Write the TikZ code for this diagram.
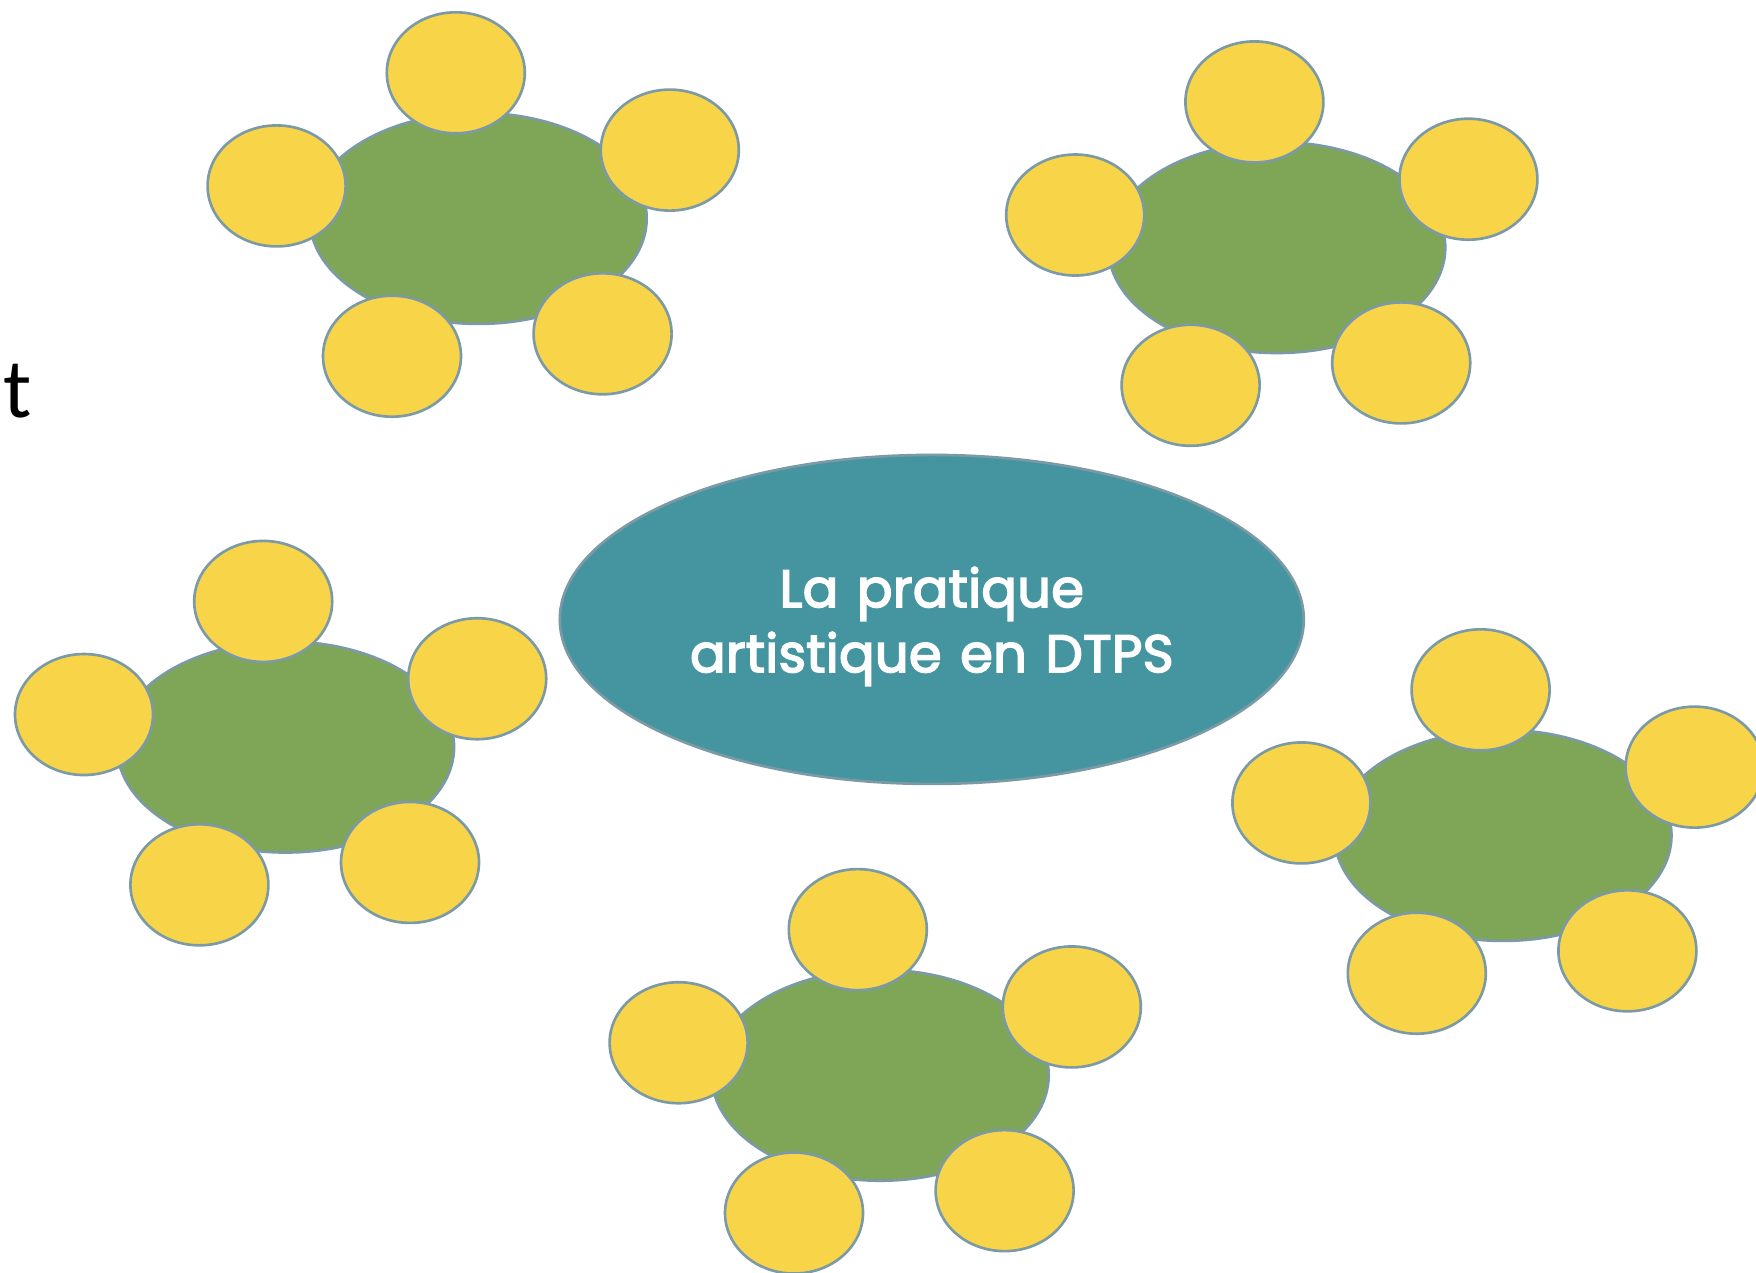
\documentclass[tikz,border=0pt]{standalone}
\usepackage{fontspec}
\usepackage{tikz}
\usetikzlibrary{shapes.geometric}
\newfontfamily\titlefont{Poppins}[LetterSpace=0.5,WordSpace=1.3]
\newfontfamily\sidefont{Carlito}
\newcommand{\heavier}[1]{\special{pdf:literal direct 2 Tr 0.45 w 1 1 1 RG}#1\special{pdf:literal direct 0 Tr}}
\definecolor{leafgreen}{HTML}{7EA656}
\definecolor{petalyellow}{HTML}{F8D548}
\definecolor{coreteal}{HTML}{4595A1}
\definecolor{rimgrey}{HTML}{7C9AA6}

\tikzset{
  core/.style={ellipse, draw=rimgrey, line width=0.75pt, fill=leafgreen,
    minimum width=3.37cm, minimum height=2.11cm, inner sep=0pt},
  petal/.style={ellipse, draw=rimgrey, line width=0.75pt, fill=petalyellow,
    minimum width=1.38cm, minimum height=1.21cm, inner sep=0pt},
  bunch/.pic={
    \node[core] (-g) at (0,0) {};
    \node[petal] (-n) at (-0.224,1.456) {};
    \node[petal] (-e) at (1.916,0.683) {};
    \node[petal] (-w) at (-2.016,0.325) {};
    \node[petal] (-sw) at (-0.862,-1.378) {};
    \node[petal] (-se) at (1.244,-1.154) {};
  }
}

\begin{document}
\begin{tikzpicture}

\useasboundingbox[fill=white] (0,0) rectangle (17.56,-12.72);

% five groups
\pic (c1) at (4.782,-2.184) {bunch};
\pic (c2) at (12.768,-2.475) {bunch};
\pic (c3) at (2.856,-7.470) {bunch};
\pic (c4) at (8.802,-10.752) {bunch};
\pic (c5) at (15.030,-8.354) {bunch};

% centre
\node[ellipse, draw=rimgrey, line width=0.75pt, fill=coreteal,
  minimum width=7.44cm, minimum height=3.29cm, inner sep=0pt]
  (centre) at (9.318,-6.194) {};
\node[align=center, text=white, inner sep=0pt,
  font=\titlefont\fontsize{15}{18.5}\selectfont]
  (title) at (9.318,-6.264) {\heavier{La pratique}\\\heavier{artistique en DTPS}};

\node[anchor=base west, inner sep=0pt, font=\sidefont\fontsize{24}{24}\selectfont]
  (cut) at (0.03,-4.17) {t};

\end{tikzpicture}
\end{document}
